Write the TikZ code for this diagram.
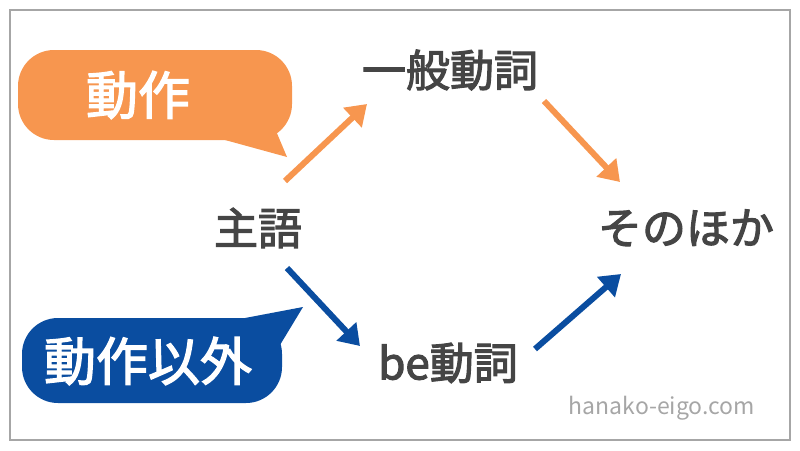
\documentclass[tikz,border=0pt]{standalone}
\usepackage{fontspec}
\setmainfont{Noto Sans CJK JP}
\newfontfamily\jpbold[FakeBold=2.5]{Noto Sans CJK JP}
\usetikzlibrary{arrows.meta}
\definecolor{orangec}{HTML}{F7964F}
\definecolor{bluec}{HTML}{0A4DA0}
\definecolor{textc}{HTML}{454545}

\begin{document}
\begin{tikzpicture}
  [
    x=1pt, y=-1pt,
    word/.style   = {text=textc, font=\jpbold\fontsize{44}{50}\selectfont, inner sep=0pt},
    label/.style  = {text=white, font=\jpbold\fontsize{52}{58}\selectfont, inner sep=0pt},
    oarrow/.style = {draw=orangec, line width=6pt, -{Triangle[length=20pt,width=26pt]}},
    barrow/.style = {draw=bluec, line width=6pt, -{Triangle[length=20pt,width=26pt]}},
  ]

%Frame of the picture
\useasboundingbox (0,0) rectangle (800,450);
\draw[draw=black!35, line width=2pt] (10,10) rectangle (790,440);

%Callouts
\fill[orangec, rounded corners=36pt] (18,50) rectangle (292,140);
\fill[orangec] (225,140) -- (268,112) -- (287,157) -- cycle;
\node[label] (dosa) at (138,95) {動作};

\fill[bluec, rounded corners=36pt] (22,318) rectangle (282,403);
\fill[bluec] (245,318) -- (280,345) -- (303,307) -- cycle;
\node[label] (igai) at (148,361) {動作以外};

%Words
\node[word] (shugo) at (258,228) {主語};
\node[word] (ippan) at (450,70)  {一般動詞};
\node[word] (be)    at (448,363) {be動詞};
\node[word] (hoka)  at (686,228) {そのほか};

%Arrow ends
\coordinate (o1s) at (285,181);
\coordinate (o1e) at (367,104);
\coordinate (o2s) at (544,101);
\coordinate (o2e) at (620,182);
\coordinate (b1s) at (287,268);
\coordinate (b1e) at (360,346);
\coordinate (b2s) at (535,349);
\coordinate (b2e) at (621,274);

\draw[oarrow] (o1s) -- (o1e);
\draw[oarrow] (o2s) -- (o2e);
\draw[barrow] (b1s) -- (b1e);
\draw[barrow] (b2s) -- (b2e);

\node[text=black!35, font=\fontsize{23}{27}\selectfont, inner sep=0pt] (site) at (662,408) {hanako-eigo.com};
\end{tikzpicture}
\end{document}
